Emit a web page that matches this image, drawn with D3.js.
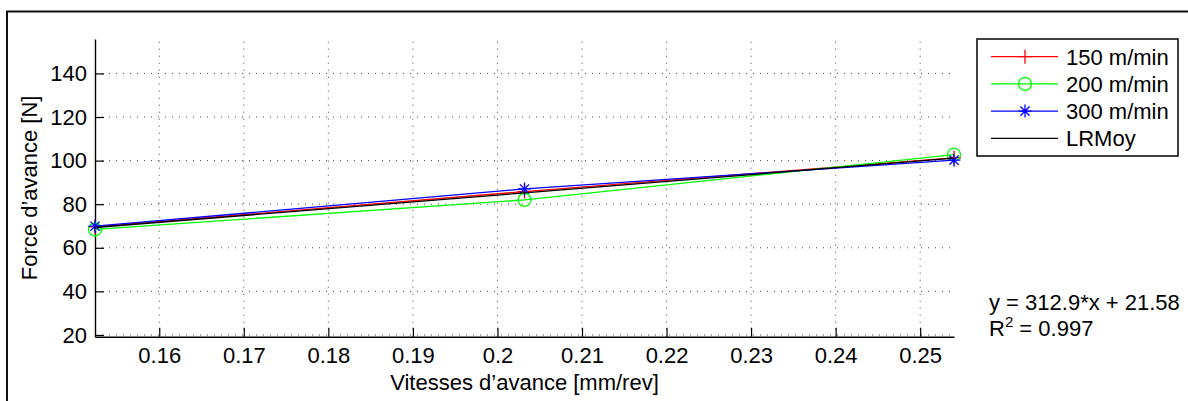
<!DOCTYPE html>
<html>
<head>
<meta charset="utf-8">
<script src="https://cdn.jsdelivr.net/npm/d3@7"></script>
<style>
  html, body { margin: 0; padding: 0; background: #fff; }
  svg { display: block; }
  text { font-family: "Liberation Sans", Arial, Helvetica, sans-serif; fill: #000; }
</style>
</head>
<body>
<svg id="chart" width="1188" height="401"></svg>
<script>
// ---- data ----
const feedRates = [0.1524, 0.2032, 0.254];            // mm/rev
const force150 = [69.6, 85.8, 101.3];                  // N, 150 m/min
const force200 = [68.4, 82.0, 102.7];                  // N, 200 m/min
const force300 = [69.9, 87.0, 100.2];                  // N, 300 m/min
const lrMoy    = [69.3, 85.2, 101.1];                  // N, mean linear regression
const seriesNames = ["150 m/min", "200 m/min", "300 m/min", "LRMoy"];
const xTicks = [0.16, 0.17, 0.18, 0.19, 0.20, 0.21, 0.22, 0.23, 0.24, 0.25];
const yTicks = [20, 40, 60, 80, 100, 120, 140];
const xLabel = "Vitesses d\u2019avance [mm/rev]";
const yLabel = "Force d\u2019avance [N]";
const eqLine = "y = 312.9*x + 21.58";
const r2Value = "0.997";

// ---- layout ----
const svg = d3.select("#chart");
const L = 95, R = 954, T = 39, B = 336.7;
const x = d3.scaleLinear().domain([0.1524, 0.254]).range([L, R]);
const y = d3.scaleLinear().domain([19.2, 155.8]).range([B, T]);
const FS = 22;

// outer figure border
svg.append("rect").attr("x", 7).attr("y", 11.5).attr("width", 1200).attr("height", 420)
  .attr("fill", "none").attr("stroke", "#111").attr("stroke-width", 2);

// grid
const grid = svg.append("g");
grid.selectAll("line.gx").data(xTicks).join("line")
  .attr("x1", d => x(d)).attr("x2", d => x(d)).attr("y1", B).attr("y2", T)
  .attr("stroke", "#444").attr("stroke-width", 1).attr("stroke-dasharray", "1,6");
grid.selectAll("line.gy").data(yTicks).join("line")
  .attr("y1", d => y(d)).attr("y2", d => y(d)).attr("x1", L).attr("x2", R)
  .attr("stroke", "#444").attr("stroke-width", 1).attr("stroke-dasharray", "1,6");

// axes
const xAxis = d3.axisBottom(x).tickValues(xTicks).tickFormat(d3.format("~g"))
  .tickSizeInner(-9).tickSizeOuter(0).tickPadding(18);
const yAxis = d3.axisLeft(y).tickValues(yTicks)
  .tickSizeInner(-9).tickSizeOuter(0).tickPadding(17);
const gx = svg.append("g").attr("transform", `translate(0,${B})`).call(xAxis);
const gy = svg.append("g").attr("transform", `translate(${L},0)`).call(yAxis);
[gx, gy].forEach(g => {
  g.select(".domain").attr("stroke", "#000").attr("stroke-width", 1.4);
  g.selectAll(".tick line").attr("stroke", "#000").attr("stroke-width", 1.2);
  g.selectAll(".tick text").attr("font-size", FS)
    .attr("font-family", "Liberation Sans, Arial, sans-serif").attr("fill", "#000");
});
gx.selectAll(".tick text").attr("dy", "0.71em").attr("y", 11);
gy.selectAll(".tick text").attr("x", -8);

// axis labels
svg.append("text").attr("x", (L + R) / 2).attr("y", 390)
  .attr("text-anchor", "middle").attr("font-size", FS).text(xLabel);
svg.append("text").attr("transform", `translate(36.5,${(T + B) / 2}) rotate(-90)`)
  .attr("text-anchor", "middle").attr("font-size", FS).text(yLabel);

// series
const series = [
  { name: seriesNames[0], vals: force150, color: "#ff0000", marker: "plus" },
  { name: seriesNames[1], vals: force200, color: "#00ff00", marker: "circle" },
  { name: seriesNames[2], vals: force300, color: "#0000ff", marker: "star" },
  { name: seriesNames[3], vals: lrMoy,    color: "#000000", marker: null }
];
const lineGen = d3.line().x((d, i) => x(feedRates[i])).y(d => y(d));

function drawMarker(g, type, cx, cy, color) {
  if (type === "plus") {
    g.append("path").attr("d", `M${cx - 7},${cy}H${cx + 7}M${cx},${cy - 7}V${cy + 7}`)
      .attr("stroke", color).attr("stroke-width", 1.3).attr("fill", "none");
  } else if (type === "circle") {
    g.append("circle").attr("cx", cx).attr("cy", cy).attr("r", 6.5)
      .attr("stroke", color).attr("stroke-width", 1.3).attr("fill", "none");
  } else if (type === "star") {
    const s = 6.5, d = 4.6;
    g.append("path").attr("d",
      `M${cx - s},${cy}H${cx + s}M${cx},${cy - s}V${cy + s}` +
      `M${cx - d},${cy - d}L${cx + d},${cy + d}M${cx - d},${cy + d}L${cx + d},${cy - d}`)
      .attr("stroke", color).attr("stroke-width", 1.3).attr("fill", "none");
  }
}

const plot = svg.append("g");
series.forEach(s => {
  plot.append("path").datum(s.vals).attr("d", lineGen)
    .attr("fill", "none").attr("stroke", s.color).attr("stroke-width", 1.3);
  if (s.marker) {
    s.vals.forEach((v, i) => drawMarker(plot, s.marker, x(feedRates[i]), y(v), s.color));
  }
});

// legend
const lg = svg.append("g");
lg.append("rect").attr("x", 977).attr("y", 39).attr("width", 201).attr("height", 117)
  .attr("fill", "#fff").attr("stroke", "#000").attr("stroke-width", 1.5);
series.forEach((s, i) => {
  const cy = 56.7 + i * 27.2;
  lg.append("line").attr("x1", 991).attr("x2", 1058).attr("y1", cy).attr("y2", cy)
    .attr("stroke", s.color).attr("stroke-width", 1.3);
  if (s.marker) drawMarker(lg, s.marker, 1025, cy, s.color);
  lg.append("text").attr("x", 1066).attr("y", cy + 8).attr("font-size", FS).text(s.name);
});

// regression annotation
svg.append("text").attr("x", 989).attr("y", 310).attr("font-size", FS).text(eqLine);
const r2 = svg.append("text").attr("x", 989).attr("y", 335.7).attr("font-size", FS);
r2.append("tspan").text("R");
r2.append("tspan").attr("font-size", 15).attr("dy", -9).text("2");
r2.append("tspan").attr("dy", 9).text(" = " + r2Value);
</script>
</body>
</html>
